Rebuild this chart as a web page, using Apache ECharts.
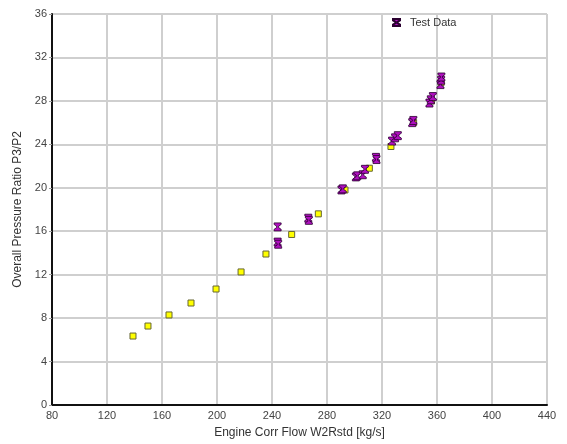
<!DOCTYPE html>
<html><head><meta charset="utf-8">
<script src="https://cdn.jsdelivr.net/npm/echarts@6/dist/echarts.min.js"></script>
<style>html,body{margin:0;padding:0;background:#fff}#c{width:567px;height:444px}</style>
</head><body><div id="c"></div>
<script>
// Model points (yellow squares): [W2Rstd kg/s, P3/P2]
const modelFlow  = [138.9, 149.8, 165.1, 181.1, 199.3, 217.5, 235.6, 254.3, 273.7, 293.1, 310.8, 326.5, 343.0, 356.0, 363.0];
const modelRatio = [6.35, 7.27, 8.29, 9.39, 10.68, 12.25, 13.9, 15.7, 17.6, 19.8, 21.8, 23.8, 26.0, 28.0, 29.7];
// Test data points (purple)
const testFlow  = [244.1, 244.1, 244.5, 266.4, 266.8, 290.5, 291.5, 301.0, 302.0, 306.0, 307.6, 315.6, 316.0, 327.3, 329.5, 331.5, 342.0, 342.8, 354.5, 355.5, 357.0, 362.5, 363.0, 363.2];
const testRatio = [16.4, 15.0, 14.8, 17.2, 17.0, 19.8, 19.9, 21.0, 21.1, 21.2, 21.7, 22.8, 22.6, 24.3, 24.6, 24.8, 26.0, 26.2, 27.8, 28.1, 28.4, 29.5, 29.9, 30.2];
const xTicks = [80, 120, 160, 200, 240, 280, 320, 360, 400, 440];
const yTicks = [0, 4, 8, 12, 16, 20, 24, 28, 32, 36];

const ibeam = 'path://M0,0 H10 V2 L6.5,4 V6 L10,8 V10 H0 V8 L3.5,6 V4 L0,2 Z';
const chart = echarts.init(document.getElementById('c'));
chart.setOption({
  animation: false,
  textStyle: {fontFamily: 'Liberation Sans, Arial, sans-serif'},
  grid: {left: 52, right: 20, top: 14, bottom: 39, containLabel: false},
  legend: {
    data: ['Test Data'], left: 387, top: 12, itemWidth: 7, itemHeight: 8, itemGap: 4,
    textStyle: {fontSize: 11, color: '#333', padding: [0, 0, 0, 5]}
  },
  xAxis: {
    type: 'value', min: xTicks[0], max: xTicks[xTicks.length-1], interval: 40,
    name: 'Engine Corr Flow W2Rstd [kg/s]', nameLocation: 'middle', nameGap: 22,
    nameTextStyle: {fontSize: 12, color: '#333'},
    axisLine: {show: true, onZero: false, lineStyle: {color: '#111', width: 2}},
    axisTick: {show: false},
    axisLabel: {fontSize: 11, color: '#444', margin: 5},
    splitLine: {show: true, lineStyle: {color: '#cfcfcf', width: 2}}
  },
  yAxis: {
    type: 'value', min: yTicks[0], max: yTicks[yTicks.length-1], interval: 4,
    name: 'Overall Pressure Ratio P3/P2', nameLocation: 'middle', nameGap: 25,
    nameTextStyle: {fontSize: 12, color: '#333'},
    axisLine: {show: true, onZero: false, lineStyle: {color: '#111', width: 2}},
    axisTick: {show: true, length: 3, lineStyle: {color: '#999'}},
    axisLabel: {fontSize: 11, color: '#444', margin: 5},
    splitLine: {show: true, lineStyle: {color: '#cfcfcf', width: 2}}
  },
  series: [
    {
      name: 'Model', type: 'scatter', symbol: 'rect', symbolSize: 6,
      itemStyle: {color: '#ffff00', borderColor: '#666633', borderWidth: 1, opacity: 1},
      data: modelFlow.map((x, i) => [x, modelRatio[i]]), z: 2
    },
    {
      name: 'Test Data', type: 'scatter', symbol: ibeam, symbolSize: [7, 8],
      itemStyle: {color: '#b010c0', borderColor: '#2a0030', borderWidth: 0.8, opacity: 1},
      data: testFlow.map((x, i) => [x, testRatio[i]]), z: 3
    }
  ]
});
</script></body></html>
